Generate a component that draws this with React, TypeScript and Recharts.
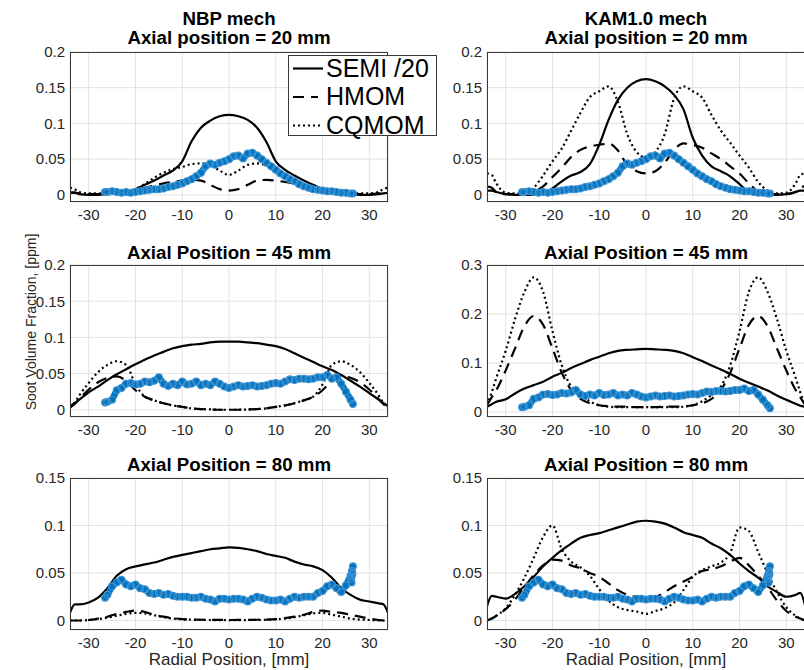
import React from 'react';
import { ComposedChart, Line, XAxis, YAxis, CartesianGrid } from 'recharts';

const FONT = '"Liberation Sans", Arial, Helvetica, sans-serif';
const INK = '#262626';
const BLUE = '#0072BD';

// radial grid for the model curves, mm
const modelR = [-34, -33, -32, -30, -28, -26, -24, -22, -20, -18, -16, -14, -12, -10, -8, -6, -4, -2, 0,
  2, 4, 6, 8, 10, 12, 14, 16, 18, 20, 22, 24, 26, 28, 30, 32, 33, 34];

// NBP mech, 20 mm
const nbp20Semi = [0.003, 0.003, 0.001, 0, 0, 0.001, 0.002, 0.004, 0.008, 0.014, 0.02, 0.027, 0.034, 0.047, 0.075, 0.094, 0.104, 0.11, 0.112,
  0.11, 0.105, 0.094, 0.074, 0.047, 0.035, 0.027, 0.02, 0.014, 0.008, 0.004, 0.002, 0.001, 0, 0, 0.001, 0.002, 0.003];
const nbp20Hmom = [0.003, 0.003, 0.002, 0.001, 0.001, 0.002, 0.003, 0.005, 0.007, 0.01, 0.013, 0.016, 0.018, 0.02, 0.021, 0.02, 0.014, 0.008, 0.006,
  0.008, 0.014, 0.02, 0.021, 0.02, 0.018, 0.016, 0.013, 0.01, 0.007, 0.005, 0.003, 0.002, 0.001, 0.001, 0.002, 0.003, 0.003];
const nbp20Cq = [0.01, 0.008, 0.004, 0.002, 0.002, 0.002, 0.003, 0.004, 0.008, 0.015, 0.024, 0.031, 0.036, 0.039, 0.043, 0.044, 0.042, 0.034, 0.028,
  0.034, 0.042, 0.044, 0.041, 0.035, 0.028, 0.021, 0.015, 0.01, 0.007, 0.004, 0.003, 0.002, 0.002, 0.002, 0.004, 0.008, 0.01];

// KAM1.0 mech, 20 mm
const kam20Semi = [0.006, 0.006, 0.004, 0.001, 0, 0, 0, 0.002, 0.009, 0.019, 0.027, 0.032, 0.043, 0.07, 0.105, 0.133, 0.15, 0.159, 0.162,
  0.159, 0.152, 0.14, 0.12, 0.08, 0.055, 0.04, 0.033, 0.026, 0.015, 0.004, 0, 0, 0, 0.001, 0.004, 0.006, 0.006];
const kam20Hmom = [0.012, 0.01, 0.004, 0.001, 0.001, 0.002, 0.005, 0.012, 0.025, 0.038, 0.053, 0.063, 0.068, 0.07, 0.072, 0.062, 0.042, 0.033, 0.03,
  0.033, 0.045, 0.063, 0.072, 0.07, 0.066, 0.058, 0.05, 0.04, 0.03, 0.016, 0.005, 0.002, 0.001, 0.001, 0.004, 0.01, 0.012];
const kam20Cq = [0.03, 0.028, 0.016, 0.003, 0.002, 0.002, 0.01, 0.027, 0.047, 0.065, 0.09, 0.115, 0.137, 0.145, 0.152, 0.13, 0.085, 0.06, 0.052,
  0.06, 0.085, 0.135, 0.152, 0.145, 0.136, 0.112, 0.09, 0.073, 0.055, 0.038, 0.018, 0.006, 0.002, 0.003, 0.016, 0.028, 0.03];

// NBP mech, 45 mm
const nbp45Semi = [0.005, 0.009, 0.014, 0.024, 0.032, 0.041, 0.049, 0.056, 0.063, 0.069, 0.075, 0.08, 0.085, 0.088, 0.09, 0.091, 0.093, 0.094, 0.094,
  0.094, 0.093, 0.092, 0.09, 0.088, 0.084, 0.078, 0.072, 0.066, 0.06, 0.055, 0.048, 0.04, 0.032, 0.023, 0.014, 0.009, 0.005];
const nbp45Hmom = [0.003, 0.008, 0.015, 0.028, 0.038, 0.044, 0.046, 0.04, 0.027, 0.018, 0.013, 0.009, 0.006, 0.004, 0.002, 0.001, 0.0005, 0, 0,
  0, 0.0005, 0.001, 0.002, 0.004, 0.006, 0.009, 0.013, 0.018, 0.027, 0.04, 0.046, 0.044, 0.038, 0.028, 0.015, 0.008, 0.003];
const nbp45Cq = [0.004, 0.01, 0.02, 0.037, 0.052, 0.062, 0.067, 0.062, 0.035, 0.018, 0.013, 0.009, 0.006, 0.004, 0.002, 0.001, 0.0005, 0, 0,
  0, 0.0005, 0.001, 0.002, 0.004, 0.006, 0.009, 0.013, 0.018, 0.035, 0.062, 0.067, 0.062, 0.052, 0.037, 0.02, 0.01, 0.004];

// KAM1.0 mech, 45 mm
const kam45Semi = [0.011, 0.016, 0.021, 0.026, 0.038, 0.048, 0.055, 0.062, 0.072, 0.08, 0.09, 0.098, 0.106, 0.113, 0.12, 0.125, 0.127, 0.128, 0.129,
  0.128, 0.127, 0.125, 0.12, 0.112, 0.104, 0.095, 0.087, 0.078, 0.068, 0.06, 0.052, 0.044, 0.034, 0.025, 0.017, 0.013, 0.011];
const kam45Hmom = [0.015, 0.03, 0.045, 0.085, 0.13, 0.175, 0.196, 0.178, 0.13, 0.08, 0.045, 0.027, 0.018, 0.014, 0.012, 0.011, 0.011, 0.01, 0.01,
  0.01, 0.011, 0.011, 0.012, 0.014, 0.018, 0.027, 0.045, 0.08, 0.13, 0.178, 0.196, 0.175, 0.13, 0.085, 0.045, 0.03, 0.015];
const kam45Cq = [0.015, 0.04, 0.07, 0.125, 0.19, 0.245, 0.275, 0.245, 0.165, 0.095, 0.052, 0.035, 0.022, 0.014, 0.011, 0.01, 0.01, 0.01, 0.01,
  0.01, 0.01, 0.01, 0.011, 0.014, 0.022, 0.035, 0.052, 0.095, 0.165, 0.245, 0.275, 0.245, 0.19, 0.125, 0.07, 0.04, 0.015];

// NBP mech, 80 mm
const nbp80Semi = [0.008, 0.017, 0.017, 0.019, 0.024, 0.034, 0.047, 0.054, 0.057, 0.059, 0.061, 0.064, 0.067, 0.069, 0.071, 0.073, 0.075, 0.076, 0.077,
  0.0765, 0.075, 0.073, 0.07, 0.068, 0.066, 0.062, 0.059, 0.057, 0.053, 0.045, 0.034, 0.027, 0.022, 0.02, 0.018, 0.017, 0.008];
const nbp80Hmom = [0, 0, 0, 0.0005, 0.002, 0.004, 0.007, 0.009, 0.0105, 0.009, 0.006, 0.004, 0.0025, 0.0015, 0.001, 0.0008, 0.0007, 0.0006, 0.0005,
  0.0006, 0.0007, 0.0008, 0.001, 0.0015, 0.0025, 0.004, 0.006, 0.009, 0.0105, 0.009, 0.008, 0.006, 0.004, 0.002, 0.0005, 0, 0];
const nbp80Cq = [0, 0, 0, 0.0005, 0.0015, 0.003, 0.005, 0.007, 0.008, 0.0075, 0.0055, 0.0035, 0.002, 0.0012, 0.0008, 0.0006, 0.0005, 0.0005, 0.0005,
  0.0005, 0.0005, 0.0006, 0.0008, 0.0012, 0.002, 0.0035, 0.0055, 0.0075, 0.008, 0.006, 0.004, 0.002, 0.001, 0.0005, 0, 0, 0];

// KAM1.0 mech, 80 mm
const kam80Semi = [0.015, 0.026, 0.025, 0.023, 0.028, 0.036, 0.046, 0.057, 0.066, 0.074, 0.081, 0.087, 0.09, 0.092, 0.095, 0.098, 0.101, 0.104, 0.105,
  0.104, 0.102, 0.098, 0.093, 0.09, 0.087, 0.081, 0.076, 0.069, 0.06, 0.052, 0.045, 0.036, 0.03, 0.025, 0.027, 0.029, 0.016];
const kam80Hmom = [0, 0.002, 0.005, 0.012, 0.022, 0.035, 0.048, 0.058, 0.064, 0.063, 0.058, 0.055, 0.05, 0.046, 0.039, 0.032, 0.027, 0.025, 0.025,
  0.025, 0.03, 0.036, 0.041, 0.046, 0.052, 0.054, 0.057, 0.062, 0.066, 0.058, 0.047, 0.035, 0.021, 0.01, 0.004, 0.002, 0];
const kam80Cq = [0, 0.002, 0.005, 0.013, 0.027, 0.045, 0.066, 0.088, 0.1, 0.075, 0.062, 0.056, 0.047, 0.033, 0.021, 0.014, 0.011, 0.0095, 0.007,
  0.01, 0.013, 0.019, 0.032, 0.046, 0.053, 0.057, 0.061, 0.071, 0.098, 0.094, 0.072, 0.05, 0.03, 0.014, 0.005, 0.002, 0];

// experimental points (same measurement used for both mechanisms)
const expR = [-26.5, -26, -25, -24, -23, -22, -21, -20, -19, -18, -17, -16, -15, -14, -13, -12, -11, -10, -9, -8, -7, -6, -5, -4, -3, -2, -1, 0,
  1, 2, 3, 4, 5, 6, 7, 8, 9, 10, 11, 12, 13, 14, 15, 16, 17, 18, 19, 20, 21, 22, 23, 24, 25, 26, 26.5];
const exp20 = [0.004, 0.004, 0.005, 0.004, 0.003, 0.004, 0.003, 0.004, 0.005, 0.006, 0.007, 0.008, 0.008, 0.009, 0.011, 0.012, 0.014, 0.016, 0.019, 0.022,
  0.026, 0.031, 0.04, 0.044, 0.042, 0.045, 0.047, 0.05, 0.054, 0.055, 0.051, 0.058, 0.059, 0.055, 0.05, 0.045, 0.04, 0.035, 0.03, 0.026, 0.022,
  0.019, 0.015, 0.012, 0.01, 0.008, 0.007, 0.006, 0.005, 0.005, 0.004, 0.003, 0.003, 0.002, 0.002];
const exp45 = [0.01, 0.011, 0.014, 0.027, 0.03, 0.036, 0.037, 0.035, 0.036, 0.039, 0.038, 0.04, 0.045, 0.036, 0.033, 0.036, 0.034, 0.039, 0.035, 0.036,
  0.039, 0.034, 0.036, 0.034, 0.039, 0.036, 0.032, 0.03, 0.032, 0.034, 0.032, 0.033, 0.034, 0.032, 0.033, 0.034, 0.036, 0.037, 0.036, 0.039, 0.042,
  0.041, 0.043, 0.043, 0.042, 0.043, 0.045, 0.045, 0.048, 0.043, 0.045, 0.036, 0.025, 0.014, 0.008];
const exp80 = [0.024, 0.027, 0.036, 0.04, 0.043, 0.038, 0.036, 0.038, 0.034, 0.033, 0.029, 0.028, 0.029, 0.027, 0.028, 0.026, 0.025, 0.025, 0.025, 0.024,
  0.024, 0.025, 0.023, 0.022, 0.02, 0.023, 0.023, 0.022, 0.023, 0.023, 0.022, 0.02, 0.023, 0.025, 0.024, 0.022, 0.021, 0.021, 0.022, 0.02, 0.023,
  0.025, 0.024, 0.025, 0.025, 0.025, 0.029, 0.031, 0.036, 0.038, 0.034, 0.03, 0.037, 0.047, 0.057];
const exp80HookR = [26.3, 26.1, 26.4, 26.2];
const exp80HookV = [0.052, 0.044, 0.049, 0.04];

const xTicks = [-30, -20, -10, 0, 10, 20, 30];
const yTicks02 = [0, 0.05, 0.1, 0.15, 0.2];
const yTicks03 = [0, 0.1, 0.2, 0.3];
const yTicks015 = [0, 0.05, 0.1, 0.15];

const buildModel = (semi: number[], hmom: number[], cq: number[]) =>
  modelR.map((r, i) => ({ r, semi: semi[i], hmom: hmom[i], cq: cq[i] }));

const buildExp = (vals: number[], extraR: number[] = [], extraV: number[] = []) =>
  expR.map((r, i) => ({ r, v: vals[i] })).concat(extraR.map((r, i) => ({ r, v: extraV[i] })));

const Y_AXIS_W = 60;
const PAD_TOP = 10;
const PAD_RIGHT = 10;
const X_AXIS_H = 30;

const tickStyle = { fontSize: 15, fill: INK, fontFamily: FONT };

interface PanelProps {
  left: number;
  top: number;
  width: number;
  height: number;
  yDomain: [number, number];
  yTicks: number[];
  model: { r: number; semi: number; hmom: number; cq: number }[];
  exp: { r: number; v: number }[];
}

function Panel({ left, top, width, height, yDomain, yTicks, model, exp }: PanelProps) {
  return (
    <div style={{ position: 'absolute', left: left - Y_AXIS_W, top: top - PAD_TOP }}>
      <ComposedChart
        width={width + Y_AXIS_W + PAD_RIGHT}
        height={height + PAD_TOP + X_AXIS_H}
        margin={{ top: PAD_TOP, right: PAD_RIGHT, bottom: 0, left: 0 }}
      >
        <CartesianGrid stroke="#e2e2e2" />
        <XAxis
          type="number"
          dataKey="r"
          domain={[-34, 34]}
          ticks={xTicks}
          interval={0}
          allowDataOverflow
          height={X_AXIS_H}
          axisLine={false}
          tickLine={false}
          tickSize={6}
          tickMargin={1}
          tick={tickStyle}
        />
        <YAxis
          type="number"
          domain={yDomain}
          ticks={yTicks}
          interval={0}
          allowDataOverflow
          width={Y_AXIS_W}
          axisLine={false}
          tickLine={false}
          tickSize={5}
          tickMargin={0}
          tick={tickStyle}
        />
        <Line data={model} dataKey="cq" type="monotone" stroke="#000" strokeWidth={2.2}
          strokeDasharray="2 3" dot={false} isAnimationActive={false} />
        <Line data={model} dataKey="hmom" type="monotone" stroke="#000" strokeWidth={2.2}
          strokeDasharray="11 7" dot={false} isAnimationActive={false} />
        <Line data={model} dataKey="semi" type="monotone" stroke="#000" strokeWidth={2.2}
          dot={false} isAnimationActive={false} />
        <Line data={exp} dataKey="v" type="linear" stroke={BLUE} strokeWidth={6.5} strokeLinejoin="round" strokeLinecap="round"
          dot={{ r: 3.4, stroke: '#3c92d2', strokeWidth: 1.2, fill: 'none' }} isAnimationActive={false} />
      </ComposedChart>
      <div
        style={{
          position: 'absolute',
          left: Y_AXIS_W,
          top: PAD_TOP,
          width,
          height,
          border: '1px solid #3a3a3a',
          boxSizing: 'border-box',
          pointerEvents: 'none',
        }}
      />
    </div>
  );
}

function Text({ x, y, size, bold, children, rotate }: { x: number; y: number; size: number; bold?: boolean; children: React.ReactNode; rotate?: boolean }) {
  return (
    <div
      style={{
        position: 'absolute',
        left: x,
        top: y,
        transform: `translate(-50%, -50%)${rotate ? ' rotate(-90deg)' : ''}`,
        fontFamily: FONT,
        fontSize: size,
        fontWeight: bold ? 700 : 400,
        lineHeight: `${size + 6}px`,
        color: bold ? '#000' : INK,
        whiteSpace: 'nowrap',
      }}
    >
      {children}
    </div>
  );
}

const LEFT_X = 70;
const RIGHT_X = 487;
const PLOT_W = 318;

export default function App() {
  const exp20Data = buildExp(exp20);
  const exp45Data = buildExp(exp45);
  const exp80Data = buildExp(exp80, exp80HookR, exp80HookV);

  const legendRows = [
    { label: 'SEMI /20', y: 67.5, dash: undefined as string | undefined, len: 30 },
    { label: 'HMOM', y: 96, dash: '11 7', len: 25 },
    { label: 'CQMOM', y: 124.5, dash: '2 3', len: 30 },
  ];

  return (
    <div style={{ position: 'absolute', left: 0, top: 0, width: 804, height: 670, overflow: 'hidden', background: '#fff' }}>
      <Panel left={LEFT_X} top={52} width={PLOT_W} height={150} yDomain={[-0.01, 0.2]} yTicks={yTicks02}
        model={buildModel(nbp20Semi, nbp20Hmom, nbp20Cq)} exp={exp20Data} />
      <Panel left={RIGHT_X} top={52} width={PLOT_W} height={150} yDomain={[-0.01, 0.2]} yTicks={yTicks02}
        model={buildModel(kam20Semi, kam20Hmom, kam20Cq)} exp={exp20Data} />
      <Panel left={LEFT_X} top={265} width={PLOT_W} height={152} yDomain={[-0.01, 0.2]} yTicks={yTicks02}
        model={buildModel(nbp45Semi, nbp45Hmom, nbp45Cq)} exp={exp45Data} />
      <Panel left={RIGHT_X} top={265} width={PLOT_W} height={152} yDomain={[-0.01, 0.3]} yTicks={yTicks03}
        model={buildModel(kam45Semi, kam45Hmom, kam45Cq)} exp={exp45Data} />
      <Panel left={LEFT_X} top={478} width={PLOT_W} height={152} yDomain={[-0.01, 0.15]} yTicks={yTicks015}
        model={buildModel(nbp80Semi, nbp80Hmom, nbp80Cq)} exp={exp80Data} />
      <Panel left={RIGHT_X} top={478} width={PLOT_W} height={152} yDomain={[-0.01, 0.15]} yTicks={yTicks015}
        model={buildModel(kam80Semi, kam80Hmom, kam80Cq)} exp={exp80Data} />

      <Text x={229} y={19} size={18.7} bold>NBP mech</Text>
      <Text x={229} y={38} size={18.7} bold>Axial position = 20 mm</Text>
      <Text x={646} y={19} size={18.7} bold>KAM1.0 mech</Text>
      <Text x={646} y={38} size={18.7} bold>Axial position = 20 mm</Text>
      <Text x={229} y={253} size={18.7} bold>Axial Position = 45 mm</Text>
      <Text x={646} y={253} size={18.7} bold>Axial Position = 45 mm</Text>
      <Text x={229} y={465} size={18.7} bold>Axial Position = 80 mm</Text>
      <Text x={646} y={465} size={18.7} bold>Axial Position = 80 mm</Text>

      <Text x={229} y={659} size={17}>Radial Position, [mm]</Text>
      <Text x={646} y={659} size={17}>Radial Position, [mm]</Text>
      <Text x={30.5} y={322} size={14} rotate>Soot Volume Fraction, [ppm]</Text>

      {/* legend */}
      <div
        style={{
          position: 'absolute',
          left: 288,
          top: 55,
          width: 149,
          height: 81,
          border: '1px solid #3a3a3a',
          boxSizing: 'border-box',
          background: '#fff',
        }}
      />
      <svg style={{ position: 'absolute', left: 0, top: 0 }} width={804} height={150}>
        {legendRows.map((row) => (
          <line key={row.label} x1={293} x2={293 + row.len} y1={row.y + 1} y2={row.y + 1}
            stroke="#000" strokeWidth={2.2} strokeDasharray={row.dash} />
        ))}
      </svg>
      {legendRows.map((row) => (
        <div
          key={row.label}
          style={{
            position: 'absolute',
            left: 326,
            top: row.y - 15,
            height: 30,
            lineHeight: '30px',
            fontFamily: FONT,
            fontSize: 25,
            color: '#000',
            whiteSpace: 'nowrap',
          }}
        >
          {row.label}
        </div>
      ))}
    </div>
  );
}
